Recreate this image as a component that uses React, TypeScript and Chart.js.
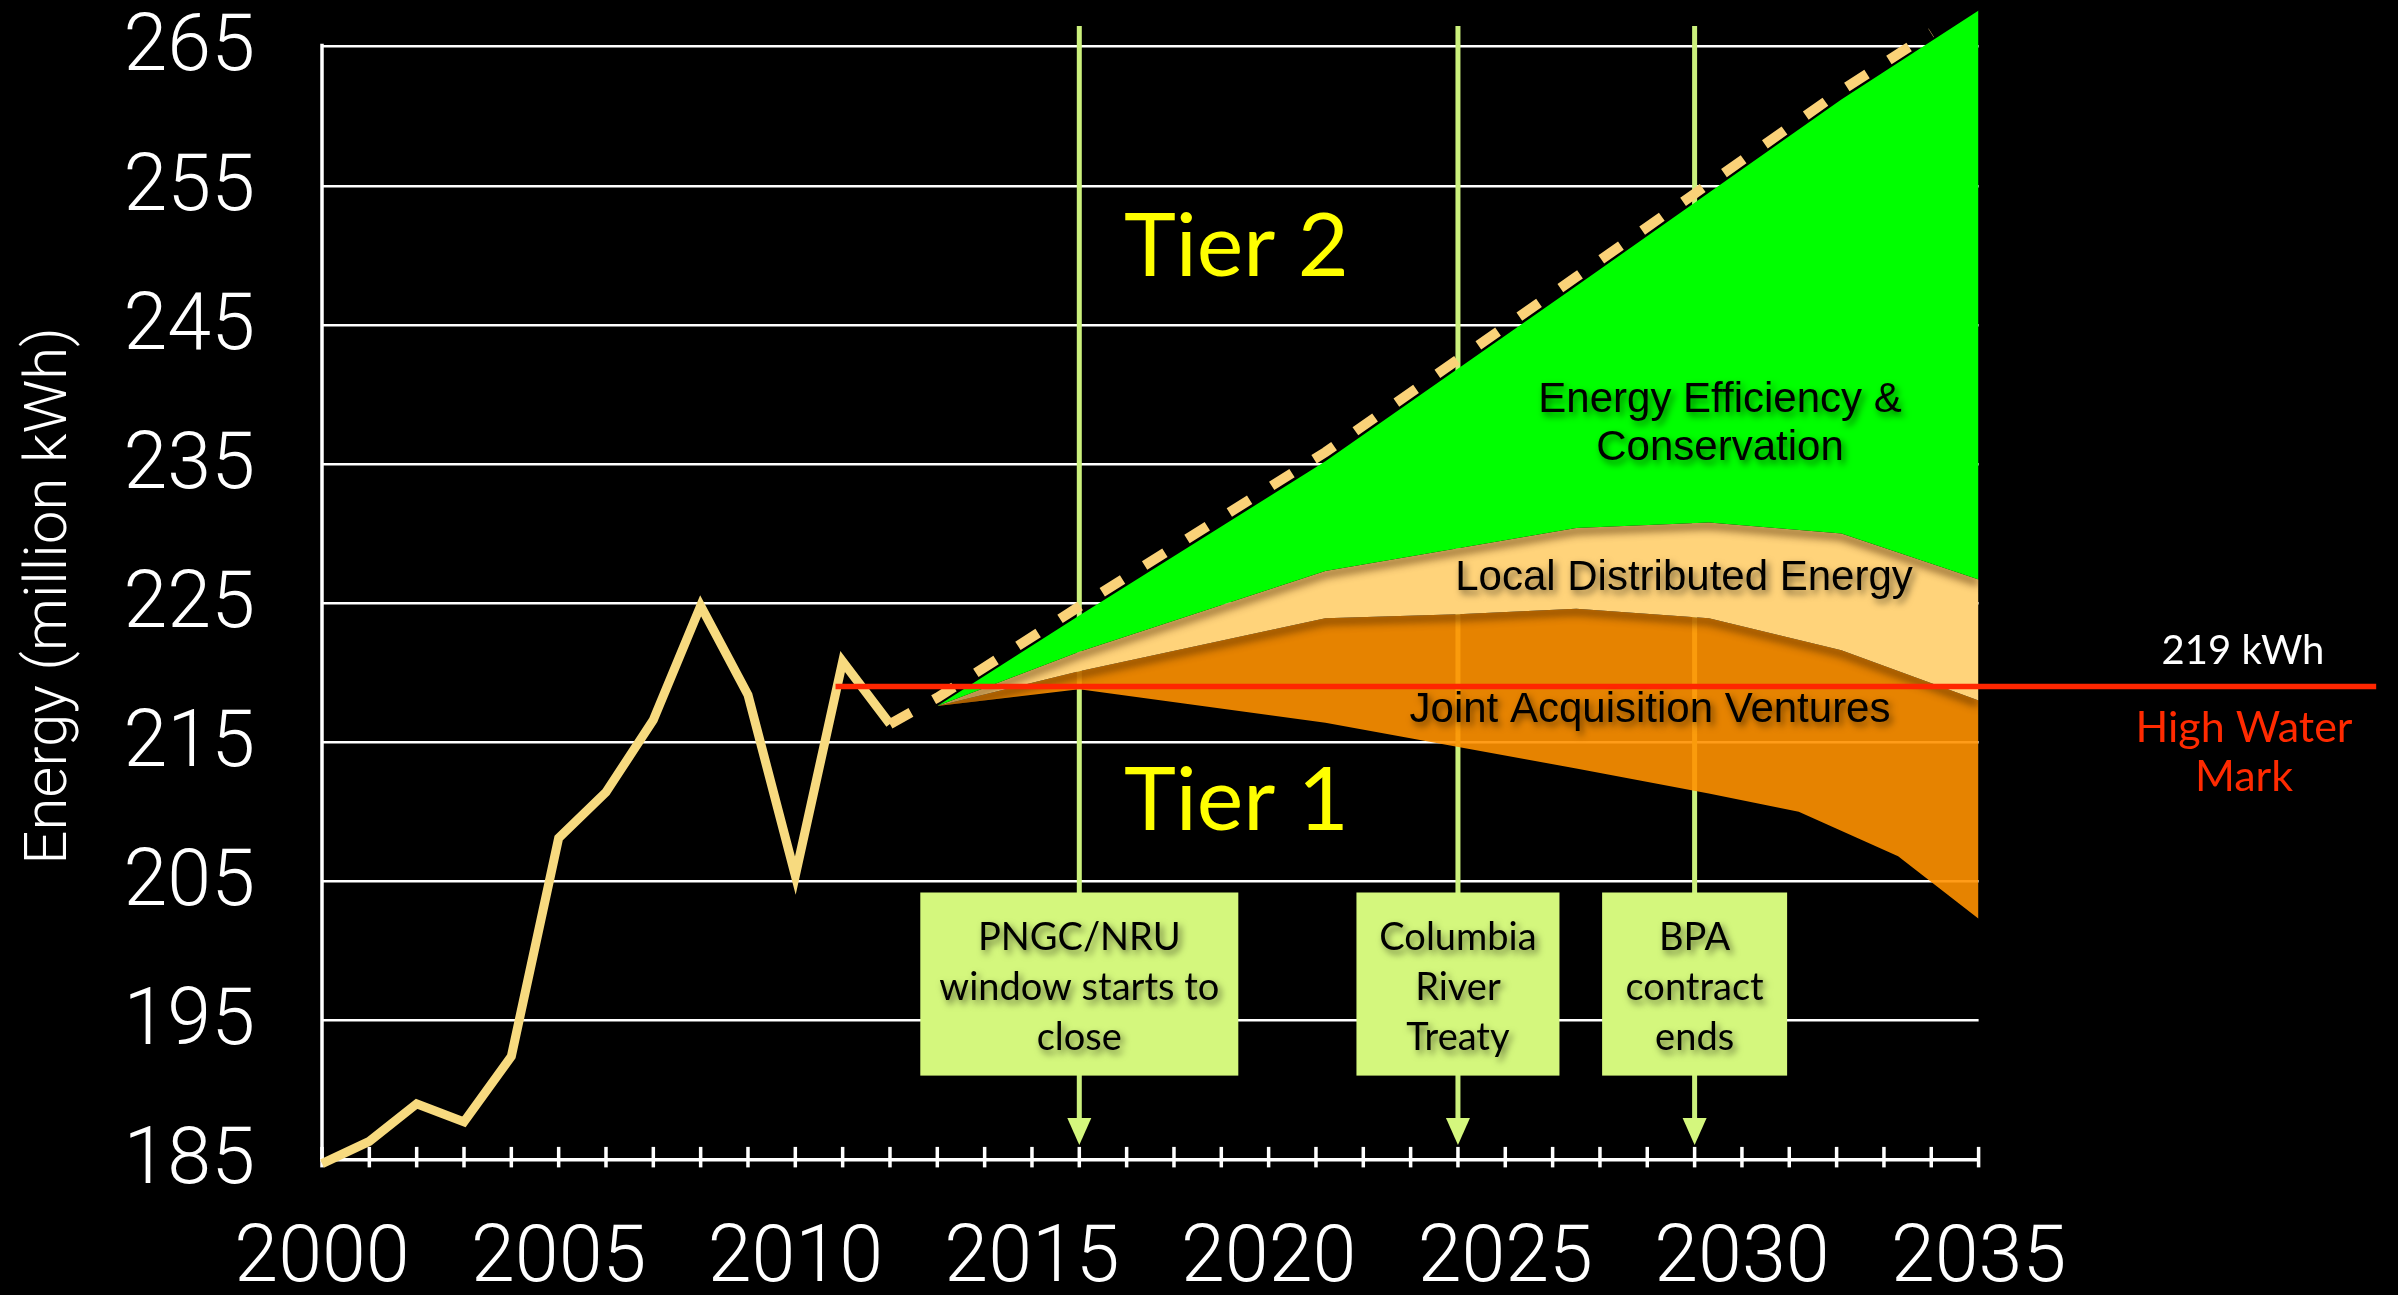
import React, { useEffect, useRef } from 'react';
import { Chart, registerables } from 'chart.js';

Chart.register(...registerables);

// ---------------- data ----------------
const historyYears = [2000, 2001, 2002, 2003, 2004, 2005, 2006, 2007, 2008, 2009, 2010, 2011, 2012];
const historyValues = [184.7, 186.3, 189.0, 187.7, 192.4, 208.1, 211.4, 216.6, 224.8, 218.4, 205.4, 220.8, 216.3];

const forecastYears = [2012, 2013, 2016, 2021.2, 2026.5, 2029.3, 2032.1, 2034];
const forecastValues = [216.3, 218.2, 224.75, 235.85, 248.45, 255.15, 261.85, 266.0];

const efficiencyYears = [2013, 2016, 2021.2, 2026.5, 2029.3, 2032.1, 2035];
const efficiencyValues = [217.6, 224.1, 235.2, 247.8, 254.5, 261.2, 267.6];

const distributedYears = [2013, 2016, 2021.2, 2026.5, 2029.3, 2032.1, 2035];
const distributedValues = [217.6, 221.5, 227.3, 230.4, 230.8, 230.0, 226.7];

const jointTopYears = [2013, 2016, 2021.2, 2024, 2026.5, 2029.3, 2032.1, 2035];
const jointTopValues = [217.6, 220.1, 223.9, 224.2, 224.6, 223.9, 221.6, 218.0];

const jointBottomYears = [2013, 2016, 2021.2, 2026.5, 2029.3, 2031.2, 2033.3, 2035];
const jointBottomValues = [217.6, 218.8, 216.4, 213.1, 211.3, 210.0, 206.8, 202.3];

const highWaterYears = [2010.85, 2043.4];
const highWaterValues = [219, 219];

const yTickValues = [185, 195, 205, 215, 225, 235, 245, 255, 265];
const xTickValues = [2000, 2005, 2010, 2015, 2020, 2025, 2030, 2035];

const eventYears = [2016, 2024, 2029];
const eventLabels = [
  ['PNGC/NRU', 'window starts to', 'close'],
  ['Columbia', 'River', 'Treaty'],
  ['BPA', 'contract', 'ends'],
];

const yAxisTitle = 'Energy (million kWh)';
const tierLabels = ['Tier 2', 'Tier 1'];
const bandTexts = ['Energy Efficiency &', 'Conservation', 'Local Distributed Energy', 'Joint Acquisition Ventures'];
const highWaterTexts = ['219 kWh', 'High Water', 'Mark'];

// ---------------- helpers ----------------
const pts = (xs: number[], ys: number[]) => xs.map((x, i) => ({ x, y: ys[i] }));

function shadowBelow(ctx: CanvasRenderingContext2D, top: any[], bottom: any[]) {
  if (!top.length || !bottom.length) return;
  ctx.save();
  ctx.beginPath();
  top.forEach((p, i) => (i ? ctx.lineTo(p.x, p.y) : ctx.moveTo(p.x, p.y)));
  for (let i = bottom.length - 1; i >= 0; i--) ctx.lineTo(bottom[i].x, bottom[i].y);
  ctx.closePath();
  ctx.clip();
  const OFF = 10000;
  ctx.shadowColor = 'rgba(70,35,0,0.85)';
  ctx.shadowBlur = 9;
  ctx.shadowOffsetX = 0;
  ctx.shadowOffsetY = OFF + 3;
  ctx.strokeStyle = '#000';
  ctx.lineWidth = 5;
  ctx.beginPath();
  top.forEach((p, i) => (i ? ctx.lineTo(p.x, p.y - OFF) : ctx.moveTo(p.x, p.y - OFF)));
  ctx.stroke();
  ctx.restore();
}

function shadowText(ctx: CanvasRenderingContext2D, text: string, x: number, y: number) {
  ctx.save();
  ctx.shadowColor = 'rgba(0,0,0,0.55)';
  ctx.shadowBlur = 7;
  ctx.shadowOffsetX = 3;
  ctx.shadowOffsetY = 4;
  ctx.fillText(text, x, y);
  ctx.restore();
}

const decorPlugin = {
  id: 'decor',
  beforeDatasetsDraw(chart: any) {
    const { ctx, scales } = chart;
    const xs = scales.x;
    const ys = scales.y;
    const x0 = xs.getPixelForValue(2000);
    const y0 = ys.getPixelForValue(185);
    ctx.save();
    ctx.strokeStyle = '#ffffff';
    ctx.lineWidth = 3.5;
    ctx.beginPath();
    ctx.moveTo(x0, ys.getPixelForValue(265) - 3);
    ctx.lineTo(x0, y0 + 1.5);
    ctx.stroke();
    for (let yr = 2000; yr <= 2035; yr++) {
      const px = xs.getPixelForValue(yr);
      ctx.beginPath();
      ctx.moveTo(px, y0 - 12.5);
      ctx.lineTo(px, y0 + 8);
      ctx.stroke();
    }
    ctx.strokeStyle = '#cbf07c';
    ctx.lineWidth = 5;
    eventYears.forEach((yr) => {
      const px = xs.getPixelForValue(yr);
      ctx.beginPath();
      ctx.moveTo(px, 26);
      ctx.lineTo(px, 1120);
      ctx.stroke();
    });
    ctx.restore();
  },
  afterDatasetDraw(chart: any, args: any) {
    if (args.index !== 3) return;
    const ctx = chart.ctx;
    const jb = chart.getDatasetMeta(0).data;
    const jt = chart.getDatasetMeta(1).data;
    const dt = chart.getDatasetMeta(2).data;
    shadowBelow(ctx, dt, jt);
    shadowBelow(ctx, jt, jb);
  },
  afterDatasetsDraw(chart: any) {
    const { ctx, scales } = chart;
    const xs = scales.x;
    ctx.save();
    // event boxes
    const boxW = [318, 203, 185];
    const boxTop = 892.5;
    const boxBottom = 1075.6;
    eventYears.forEach((yr, i) => {
      const cx = xs.getPixelForValue(yr);
      ctx.fillStyle = '#d4f77d';
      ctx.fillRect(cx - boxW[i] / 2, boxTop, boxW[i], boxBottom - boxTop);
      ctx.beginPath();
      ctx.moveTo(cx - 12, 1118);
      ctx.lineTo(cx + 12, 1118);
      ctx.lineTo(cx, 1145);
      ctx.closePath();
      ctx.fill();
      ctx.fillStyle = '#000';
      ctx.font = '38px Lato';
      ctx.textAlign = 'center';
      ctx.textBaseline = 'alphabetic';
      eventLabels[i].forEach((t, j) => shadowText(ctx, t, cx, 950 + j * 50));
    });
    // tier labels
    ctx.fillStyle = '#ffff00';
    ctx.font = '88px Lato';
    ctx.textAlign = 'left';
    ctx.fillText(tierLabels[0], 1124, 276);
    ctx.fillText(tierLabels[1], 1124, 830);
    // band labels
    ctx.fillStyle = '#000';
    ctx.font = '42px "Liberation Sans"';
    ctx.textAlign = 'center';
    shadowText(ctx, bandTexts[0], 1720, 412);
    shadowText(ctx, bandTexts[1], 1720, 460);
    shadowText(ctx, bandTexts[2], 1684, 590);
    shadowText(ctx, bandTexts[3], 1650, 722);
    // high water mark labels
    ctx.fillStyle = '#ffffff';
    ctx.font = '40px Lato';
    ctx.fillText(highWaterTexts[0], 2243, 664);
    ctx.fillStyle = '#ff2a00';
    ctx.font = '43px Lato';
    ctx.fillText(highWaterTexts[1], 2244, 742);
    ctx.fillText(highWaterTexts[2], 2244, 791);
    // y axis title
    ctx.fillStyle = '#ffffff';
    ctx.font = '300 60px Roboto';
    ctx.translate(66, 596);
    ctx.rotate(-Math.PI / 2);
    ctx.textAlign = 'center';
    ctx.fillText(yAxisTitle, 0, 0);
    ctx.restore();
  },
};

export default function App() {
  const canvasRef = useRef<HTMLCanvasElement | null>(null);

  useEffect(() => {
    document.body.style.margin = '0';
    document.body.style.background = '#000';
    const canvas = canvasRef.current;
    if (!canvas) return;
    const tickFont = { family: 'Roboto', size: 79, weight: '300' as any, lineHeight: 1 };
    const chart = new Chart(canvas, {
      type: 'line',
      data: {
        datasets: [
          {
            label: 'jointBottom',
            data: pts(jointBottomYears, jointBottomValues),
            borderWidth: 0,
            borderColor: 'rgba(0,0,0,0)',
            fill: false,
            pointRadius: 0,
            order: 10,
            clip: false as any,
          },
          {
            label: 'Joint Acquisition Ventures',
            data: pts(jointTopYears, jointTopValues),
            borderWidth: 0,
            borderColor: 'rgba(0,0,0,0)',
            backgroundColor: 'rgba(255,145,0,0.9)',
            fill: 0,
            pointRadius: 0,
            order: 9,
            clip: false as any,
          },
          {
            label: 'Local Distributed Energy',
            data: pts(distributedYears, distributedValues),
            borderWidth: 0,
            borderColor: 'rgba(0,0,0,0)',
            backgroundColor: '#ffd37a',
            fill: 1,
            pointRadius: 0,
            order: 8,
            clip: false as any,
          },
          {
            label: 'Energy Efficiency & Conservation',
            data: pts(efficiencyYears, efficiencyValues),
            borderWidth: 0,
            borderColor: 'rgba(0,0,0,0)',
            backgroundColor: '#00ff00',
            fill: 2,
            pointRadius: 0,
            order: 7,
            clip: false as any,
          },
          {
            label: 'History',
            data: pts(historyYears, historyValues),
            borderColor: '#f7da7f',
            borderWidth: 9,
            borderJoinStyle: 'miter',
            fill: false,
            pointRadius: 0,
            order: 3,
            clip: false as any,
          },
          {
            label: 'Forecast',
            data: pts(forecastYears, forecastValues),
            borderColor: '#fad278',
            borderWidth: 10,
            borderDash: [24, 26],
            borderCapStyle: 'butt',
            fill: false,
            pointRadius: 0,
            order: 2,
            clip: false as any,
          },
          {
            label: 'High Water Mark',
            data: pts(highWaterYears, highWaterValues),
            borderColor: '#ff2600',
            borderWidth: 5.5,
            fill: false,
            pointRadius: 0,
            order: 1,
            clip: false as any,
          },
        ],
      },
      options: {
        animation: false,
        responsive: false,
        events: [],
        layout: { padding: { left: 0, right: 419.4, top: 0.8, bottom: 0 } },
        plugins: {
          legend: { display: false },
          tooltip: { enabled: false },
          title: { display: false },
        },
        elements: { line: { tension: 0 }, point: { radius: 0 } },
        scales: {
          x: {
            type: 'linear',
            min: 2000,
            max: 2035,
            afterFit: (s: any) => {
              s.height = 135.6;
              s.paddingLeft = 0;
              s.paddingRight = 0;
            },
            afterBuildTicks: (s: any) => {
              s.ticks = xTickValues.map((v) => ({ value: v }));
            },
            grid: { display: false, drawTicks: false },
            border: { display: true, color: '#ffffff', width: 3.5 },
            ticks: {
              color: '#ffffff',
              font: tickFont,
              padding: 62.5,
              maxRotation: 0,
              minRotation: 0,
              autoSkip: false,
              callback: (v: any) => String(v),
            },
          },
          y: {
            type: 'linear',
            min: 185,
            max: 268,
            afterFit: (s: any) => {
              s.width = 322;
              s.paddingTop = 0;
              s.paddingBottom = 0;
            },
            afterBuildTicks: (s: any) => {
              s.ticks = yTickValues.map((v) => ({ value: v }));
            },
            grid: { color: '#ffffff', lineWidth: 2.5, drawTicks: false },
            border: { display: false },
            ticks: {
              color: '#ffffff',
              font: tickFont,
              padding: 67,
              labelOffset: 4,
              callback: (v: any) => String(v),
            },
          },
        },
      } as any,
      plugins: [decorPlugin],
    });
    let alive = true;
    const fonts = ['300 79px Roboto', '300 60px Roboto', '38px Lato', '88px Lato', '42px "Liberation Sans"'];
    Promise.all(fonts.map((f) => (document as any).fonts.load(f)))
      .then(() => {
        if (alive) chart.update();
      })
      .catch(() => {});
    return () => {
      alive = false;
      chart.destroy();
    };
  }, []);

  return (
    <div style={{ width: 2398, height: 1295, background: '#000' }}>
      <canvas ref={canvasRef} width={2398} height={1295} style={{ display: 'block' }} />
    </div>
  );
}
